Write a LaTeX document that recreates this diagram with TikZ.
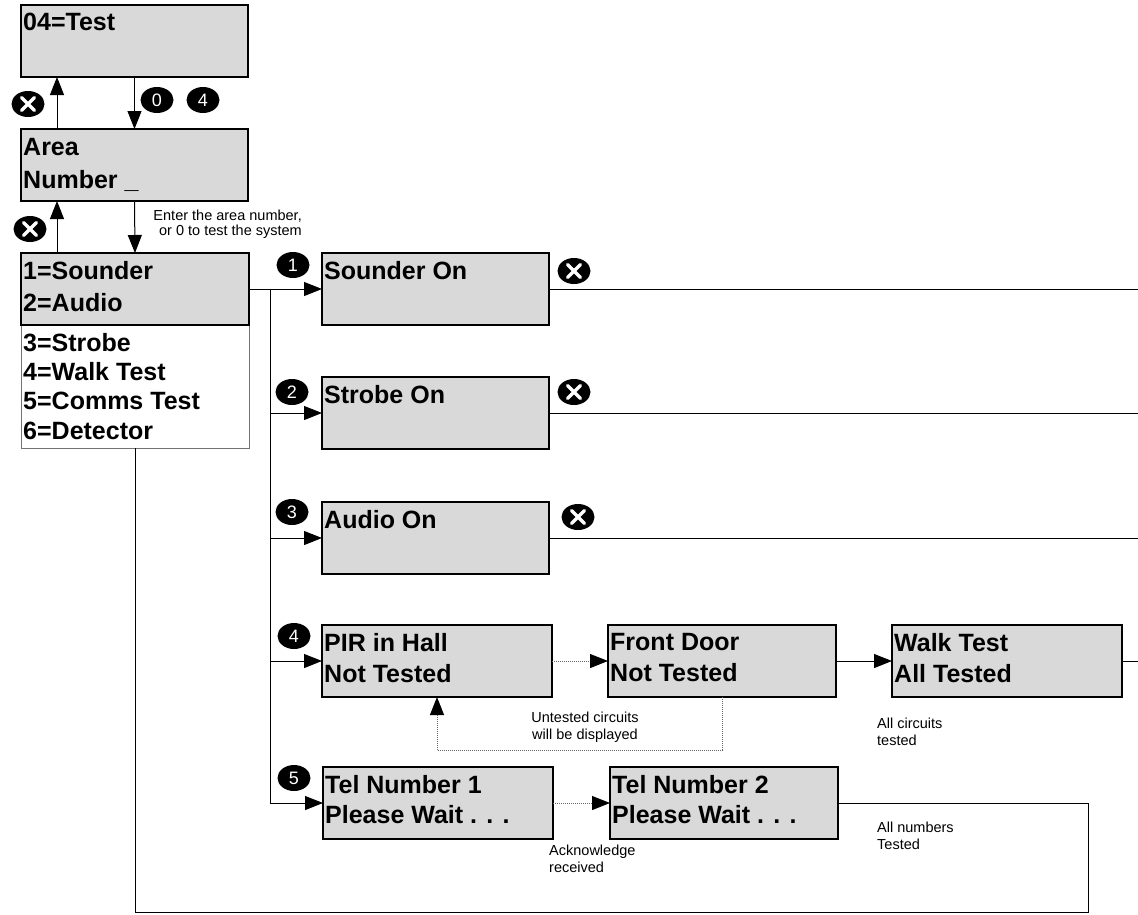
\documentclass[tikz,border=0pt]{standalone}
\usepackage{fontspec}
\setmainfont{Liberation Sans}
\usetikzlibrary{arrows.meta,shapes.geometric}
\definecolor{boxgray}{RGB}{217,217,217}
\begin{document}
\begin{tikzpicture}[x=1pt,y=-1pt,
  box/.style={draw=black, line width=2.6pt, fill=boxgray, minimum width=227pt, minimum height=72pt, inner sep=0pt, outer sep=0pt},
  btxt/.style={anchor=north west, inner sep=0pt, align=left, font=\bfseries\fontsize{25}{31}\selectfont},
  conn/.style={line width=1pt, draw=black},
  tip/.style={-{Triangle[length=18pt,width=14pt,color=black]}},
  arr/.style={conn, tip},
  dotc/.style={line width=1pt, draw=black!60, densely dotted, tip},
  key/.style={ellipse, fill=black, minimum width=33pt, minimum height=26pt, inner sep=0pt, text=white, font=\fontsize{18}{18}\selectfont},
  xkey/.style={key, path picture={\draw[white,line width=3.4pt,line cap=round]
     ([shift={(-6.5pt,-6.5pt)}]path picture bounding box.center) -- ([shift={(6.5pt,6.5pt)}]path picture bounding box.center)
     ([shift={(-6.5pt,6.5pt)}]path picture bounding box.center) -- ([shift={(6.5pt,-6.5pt)}]path picture bounding box.center);}},
  small/.style={inner sep=0pt, font=\fontsize{14.5}{17}\selectfont}
]
\useasboundingbox (0,0) rectangle (1138,914);
\coordinate (lx) at (57,0);
\coordinate (re) at (1138,0);
\coordinate (j) at (270,289);
\coordinate (br) at (1088,912);

% top boxes
\node[box] (test) at (134.5,41) {};
\node[btxt] (testt) at ([shift={(2pt,-8pt)}]test.north west) {04=Test};
\node[box] (area) at (134.5,165) {};
\node[btxt, font=\bfseries\fontsize{25}{33}\selectfont] (areat) at ([shift={(2pt,-9pt)}]area.north west) {Area\\Number \_};

% menu
\node[draw=black!55, line width=0.8pt, minimum width=228pt, minimum height=123pt, inner sep=0pt, outer sep=0pt] (mw) at (135,386.5) {};
\node[box, minimum width=228pt] (mg) at (135,289) {};
\node[btxt, font=\bfseries\fontsize{25}{32}\selectfont] (mgt) at ([shift={(2pt,-8pt)}]mg.north west) {1=Sounder\\2=Audio};
\node[btxt, font=\bfseries\fontsize{25}{29.3}\selectfont] (mwt) at (23,333) {3=Strobe\\4=Walk Test\\5=Comms Test\\6=Detector};

% right column boxes
\node[box] (snd) at (435.5,289) {};
\node[btxt] (sndt) at ([shift={(2pt,-8pt)}]snd.north west) {Sounder On};
\node[box] (stb) at (435.5,413) {};
\node[btxt] (stbt) at ([shift={(2pt,-8pt)}]stb.north west) {Strobe On};
\node[box] (aud) at (435.5,538) {};
\node[btxt] (audt) at ([shift={(2pt,-8pt)}]aud.north west) {Audio On};
\node[box, minimum width=230pt] (pir) at (437,661) {};
\node[btxt] (pirt) at ([shift={(2pt,-8pt)}]pir.north west) {PIR in Hall\\Not Tested};
\node[box, minimum width=228pt] (fd) at (722,661) {};
\node[btxt] (fdt) at ([shift={(2pt,-8pt)}]fd.north west) {Front Door\\Not Tested};
\node[box, minimum width=230pt] (wt) at (1007,661) {};
\node[btxt] (wtt) at ([shift={(2pt,-8pt)}]wt.north west) {Walk Test\\All Tested};
\node[box, minimum width=230pt] (tel1) at (438,803) {};
\node[btxt, font=\bfseries\fontsize{25}{30}\selectfont] (tel1t) at ([shift={(2pt,-8pt)}]tel1.north west) {Tel Number 1\\Please Wait . . .};
\node[box, minimum width=228pt] (tel2) at (724,803) {};
\node[btxt, font=\bfseries\fontsize{25}{30}\selectfont] (tel2t) at ([shift={(2pt,-8pt)}]tel2.north west) {Tel Number 2\\Please Wait . . .};

% connectors top
\draw[arr] (area.north -| lx) -- (test.south -| lx);
\draw[arr] (test.south) -- (area.north);
\draw[arr] (mg.north -| lx) -- (area.south -| lx);
\draw[arr] (area.south) -- (mg.north);

% branch
\draw[arr] (mg.east) -- (snd.west);
\draw[arr] (j) -- (j |- tel1.west) -- (tel1.west);
\foreach \b in {stb,aud,pir} {\draw[arr] (j |- \b.west) -- (\b.west);}

% exits to the right
\foreach \b in {snd,stb,aud,wt} {\draw[conn] (\b.east) -- (\b.east -| re);}

% walk test
\draw[dotc] (pir.east) -- (fd.west);
\draw[dotc] (fd.south) -- ++(0,53) -| (pir.south);
\draw[arr] (fd.east) -- (wt.west);

% comms test
\draw[dotc] (tel1.east) -- (tel2.west);
\draw[conn] (tel2.east) -| (br) -| (mw.south);

% keys
\node[key] (k0) at (157,100) {0};
\node[key] (k4) at (203,100) {4};
\node[xkey] (xa) at (28,104) {};
\node[xkey] (xb) at (30,229) {};
\node[key] (k1) at (293,265) {1};
\node[key] (k2) at (292,392) {2};
\node[key] (k3) at (292,512) {3};
\node[key] (k5a) at (294,636) {4};
\node[key] (k5) at (294,778) {5};
\node[xkey] (xs) at (574,271) {};
\node[xkey] (xt) at (574,392) {};
\node[xkey] (xu) at (578,517) {};

% notes
\node[small, anchor=east, align=right, font=\fontsize{14.5}{15}\selectfont] (enter) at (302,224.5) {Enter the area number,\\or 0 to test the system};
\node[small, align=center] (unt) at (585,727) {Untested circuits\\will be displayed};
\node[small, anchor=west, align=left] (allc) at (877,731.5) {All circuits\\tested};
\node[small, anchor=west, align=left] (ack) at (549,859) {Acknowledge\\received};
\node[small, anchor=west, align=left] (alln) at (877,836) {All numbers\\Tested};
\end{tikzpicture}
\end{document}
